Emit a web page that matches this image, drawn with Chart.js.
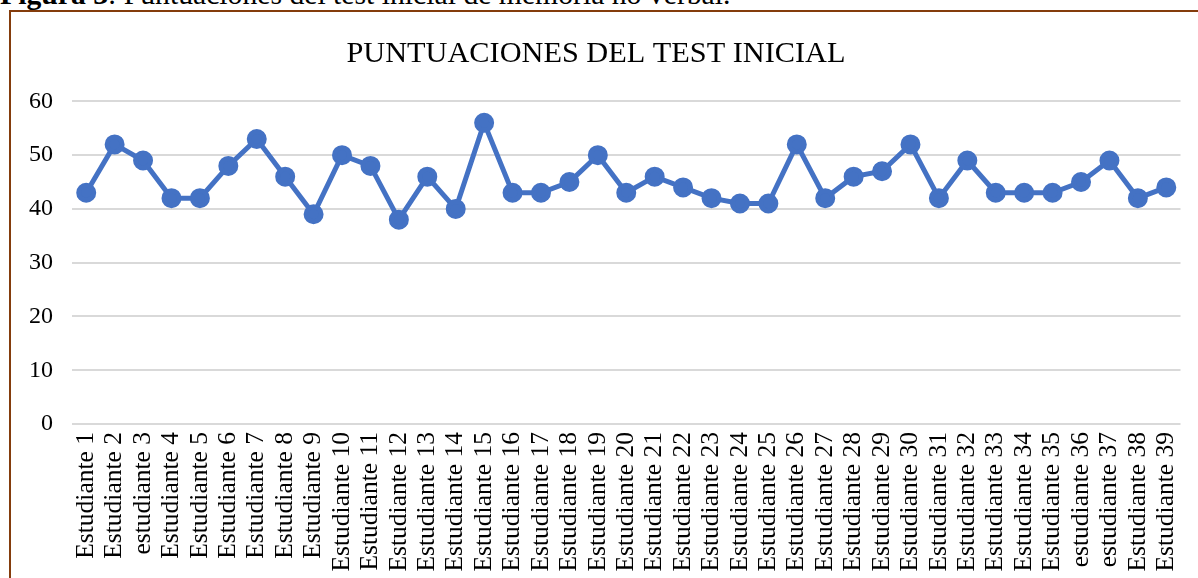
<!DOCTYPE html>
<html><head><meta charset="utf-8">
<script src="https://cdn.jsdelivr.net/npm/chart.js@4"></script>
<style>
html,body{margin:0;padding:0;background:#fff;width:1198px;height:578px;overflow:hidden;font-family:"Liberation Serif","Times New Roman",serif;}
#cap{position:absolute;left:0;top:-22px;font-size:29.7px;white-space:nowrap;color:#000;}
#box{position:absolute;left:9px;top:10px;width:1200px;height:600px;border:2px solid #843C0C;box-sizing:border-box;}
#wrap{position:absolute;left:11px;top:12px;width:1182px;height:566px;}
</style></head><body>
<div id="cap"><b>Figura 3</b>: Puntuaciones del test inicial de memoria no verbal.</div>
<div id="box"></div>
<div id="wrap"><canvas id="c"></canvas></div>
<script>
const labels = ["Estudiante 1","Estudiante 2","estudiante 3","Estudiante 4","Estudiante 5","Estudiante 6","Estudiante 7","Estudiante 8","Estudiante 9","Estudiante 10","Estudiante 11","Estudiante 12","Estudiante 13","Estudiante 14","Estudiante 15","Estudiante 16","Estudiante 17","Estudiante 18","Estudiante 19","Estudiante 20","Estudiante 21","Estudiante 22","Estudiante 23","Estudiante 24","Estudiante 25","Estudiante 26","Estudiante 27","Estudiante 28","Estudiante 29","Estudiante 30","Estudiante 31","Estudiante 32","Estudiante 33","Estudiante 34","Estudiante 35","estudiante 36","estudiante 37","Estudiante 38","Estudiante 39"];
const scores = [43,52,49,42,42,48,53,46,39,50,48,38,46,40,56,43,43,45,50,43,46,44,42,41,41,52,42,46,47,52,42,49,43,43,43,45,49,42,44];
const yTicks = [0,10,20,30,40,50,60];
const titleText = "PUNTUACIONES DEL TEST INICIAL";

const ff = "'Liberation Serif','Times New Roman',serif";
new Chart(document.getElementById('c'), {
  type: 'line',
  data: { labels: labels, datasets: [{
    data: scores,
    borderColor: '#4472C4', backgroundColor: '#4472C4',
    borderWidth: 5, pointRadius: 7.5, pointHoverRadius: 7.5,
    pointBackgroundColor: '#4472C4', pointBorderColor: '#4472C4', tension: 0
  }]},
  options: {
    responsive: true, maintainAspectRatio: false, animation: false,
    layout: { padding: { top: 0, right: 12, bottom: 0, left: 0 } },
    plugins: {
      legend: { display: false }, tooltip: { enabled: false },
      title: { display: true, text: titleText, color: '#000',
        font: { family: ff, size: 30.3, weight: 'normal' }, padding: { top: 24, bottom: 29 } }
    },
    scales: {
      y: { min: 0, max: 60,
        afterBuildTicks: (s) => { s.ticks = yTicks.map(v => ({ value: v })); },
        afterFit: (s) => { s.width = 61; },
        grid: { color: '#d9d9d9', lineWidth: 2, drawTicks: false },
        border: { display: false },
        ticks: { color: '#000', font: { family: ff, size: 24 }, padding: 19 } },
      x: { offset: true,
        afterFit: (s) => { s.height = 154; s.paddingLeft = 0; s.paddingRight = 0; },
        grid: { display: false, drawTicks: false },
        border: { display: false },
        ticks: { color: '#000', font: { family: ff, size: 25.5 }, maxRotation: 90, minRotation: 90, autoSkip: false, padding: 8 } }
    }
  }
});
</script>
</body></html>
